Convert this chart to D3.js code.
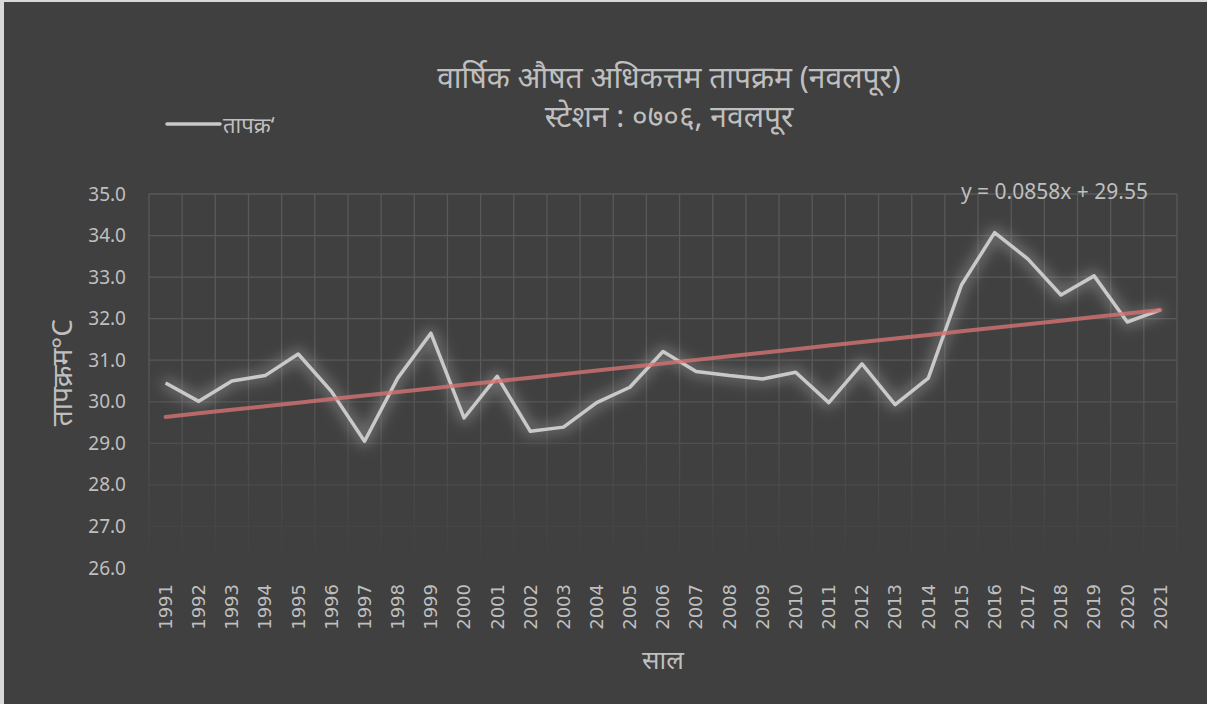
<!DOCTYPE html>
<html>
<head>
<meta charset="utf-8">
<script src="https://cdn.jsdelivr.net/npm/d3@7"></script>
<style>
  body { margin: 0; background: #d9d9d9; }
  svg { display: block; }
  text { font-family: "Noto Sans", "Open Sans", sans-serif; fill: #bfbfbf; }
</style>
</head>
<body>
<svg id="chart" width="1207" height="704"></svg>
<script>
const years = ["1991","1992","1993","1994","1995","1996","1997","1998","1999","2000",
  "2001","2002","2003","2004","2005","2006","2007","2008","2009","2010",
  "2011","2012","2013","2014","2015","2016","2017","2018","2019","2020","2021"];
const temps = [30.45, 30.01, 30.50, 30.63, 31.15, 30.25, 29.05, 30.57, 31.65, 29.61,
  30.61, 29.29, 29.39, 29.98, 30.35, 31.21, 30.73, 30.63, 30.55, 30.71,
  29.98, 30.91, 29.93, 30.57, 32.81, 34.07, 33.44, 32.57, 33.03, 31.92, 32.21];
const yTicks = [26, 27, 28, 29, 30, 31, 32, 33, 34, 35];
const trendSlope = 0.0858;
const trendIntercept = 29.55;
const titleLines = ["वार्षिक औषत अधिकत्तम तापक्रम (नवलपूर)", "स्टेशन : ०७०६, नवलपूर"];
const legendLabel = "तापक्र‘";
const yTitle = "तापक्रम°C";
const xTitle = "साल";

const svg = d3.select("#chart");
const width = 1207, height = 704;
const margin = { left: 149, right: 30, top: 194, bottom: 136 };

svg.append("rect")
  .attr("x", 4).attr("y", 2)
  .attr("width", width - 4).attr("height", height - 2)
  .attr("fill", "#404040");

const defs = svg.append("defs");

// grid fades out towards the bottom
const grad = defs.append("linearGradient")
  .attr("id", "fade").attr("x1", 0).attr("y1", 0).attr("x2", 0).attr("y2", 1);
grad.append("stop").attr("offset", "0%").attr("stop-color", "#fff");
grad.append("stop").attr("offset", "45%").attr("stop-color", "#fff");
grad.append("stop").attr("offset", "100%").attr("stop-color", "#000");
defs.append("mask").attr("id", "gridMask")
  .attr("maskUnits", "userSpaceOnUse")
  .append("rect")
  .attr("x", 0).attr("y", margin.top - 2)
  .attr("width", width).attr("height", height - margin.bottom - margin.top + 4)
  .attr("fill", "url(#fade)");

// soft halo round the data line
const glow = defs.append("filter").attr("id", "glow")
  .attr("x", "-10%").attr("y", "-30%").attr("width", "120%").attr("height", "160%");
glow.append("feMorphology").attr("in", "SourceGraphic").attr("operator", "dilate").attr("radius", 3).attr("result", "d");
glow.append("feGaussianBlur").attr("in", "d").attr("stdDeviation", 7).attr("result", "b");
glow.append("feComponentTransfer").attr("in", "b").attr("result", "bf")
  .append("feFuncA").attr("type", "linear").attr("slope", 0.35);
const merge = glow.append("feMerge");
merge.append("feMergeNode").attr("in", "bf");
merge.append("feMergeNode").attr("in", "SourceGraphic");

const x = d3.scaleBand()
  .domain(years)
  .range([margin.left, width - margin.right]);

const y = d3.scaleLinear()
  .domain([26, 35])
  .range([height - margin.bottom, margin.top]);

// gridlines
const grid = svg.append("g").attr("mask", "url(#gridMask)")
  .attr("stroke", "#595959").attr("stroke-width", 1.3);
grid.selectAll(".h").data(yTicks.filter(d => d > 26)).enter().append("line")
  .attr("x1", margin.left).attr("x2", width - margin.right)
  .attr("y1", d => y(d)).attr("y2", d => y(d));
grid.selectAll(".v").data(years.concat(["end"])).enter().append("line")
  .attr("x1", (d, i) => margin.left + i * x.step())
  .attr("x2", (d, i) => margin.left + i * x.step())
  .attr("y1", y(35)).attr("y2", y(26));

// y axis
const yAxis = d3.axisLeft(y).tickValues(yTicks).tickFormat(d3.format(".1f")).tickSize(0).tickPadding(23);
const yg = svg.append("g").attr("transform", `translate(${margin.left},0)`).call(yAxis);
yg.select(".domain").remove();
yg.selectAll("text").style("font-size", "19px").attr("fill", "#bfbfbf");

// x axis
const xAxis = d3.axisBottom(x).tickSize(0).tickPadding(0);
const xg = svg.append("g").attr("transform", `translate(0,${y(26)})`).call(xAxis);
xg.select(".domain").remove();
xg.selectAll("text")
  .style("font-size", "18px").style("font-family", "'DejaVu Sans', sans-serif")
  .attr("fill", "#bfbfbf")
  .attr("text-anchor", "end")
  .attr("dy", "0.35em").attr("y", 0)
  .attr("transform", "translate(0,16) rotate(-90)");

// data line
const line = d3.line()
  .x((d, i) => x(years[i]) + x.bandwidth() / 2)
  .y(d => y(d));

svg.append("path")
  .datum(temps)
  .attr("d", line)
  .attr("fill", "none")
  .attr("stroke", "#c9c9c9")
  .attr("stroke-width", 3.5)
  .attr("stroke-linejoin", "round")
  .attr("filter", "url(#glow)");

// linear trend
const trend = years.map((d, i) => trendSlope * (i + 1) + trendIntercept);
svg.append("path")
  .datum(trend)
  .attr("d", line)
  .attr("fill", "none")
  .attr("stroke", "#d47272")
  .attr("stroke-opacity", 0.8)
  .attr("stroke-width", 4)
  .attr("stroke-linecap", "round");

svg.append("text")
  .attr("x", 1148).attr("y", 199)
  .attr("text-anchor", "end")
  .style("font-size", "21px")
  .text(`y = ${trendSlope}x + ${trendIntercept}`);

// titles
svg.selectAll(".title").data(titleLines).enter().append("text")
  .attr("x", 669).attr("y", (d, i) => 88 + i * 39)
  .attr("text-anchor", "middle")
  .style("font-size", "30px")
  .text(d => d);

svg.append("text")
  .attr("transform", `translate(72,${y(30.7)}) rotate(-90)`)
  .attr("text-anchor", "middle")
  .style("font-size", "28px")
  .text(yTitle);

svg.append("text")
  .attr("x", x("2006") + x.bandwidth() / 2).attr("y", 669)
  .attr("text-anchor", "middle")
  .style("font-size", "26px")
  .text(xTitle);

// legend
svg.append("line")
  .attr("x1", 167).attr("x2", 220).attr("y1", 124).attr("y2", 124)
  .attr("stroke", "#c9c9c9").attr("stroke-width", 3.5).attr("stroke-linecap", "round");
svg.append("text")
  .attr("x", 223).attr("y", 133)
  .style("font-size", "22px")
  .text(legendLabel);
</script>
</body>
</html>
